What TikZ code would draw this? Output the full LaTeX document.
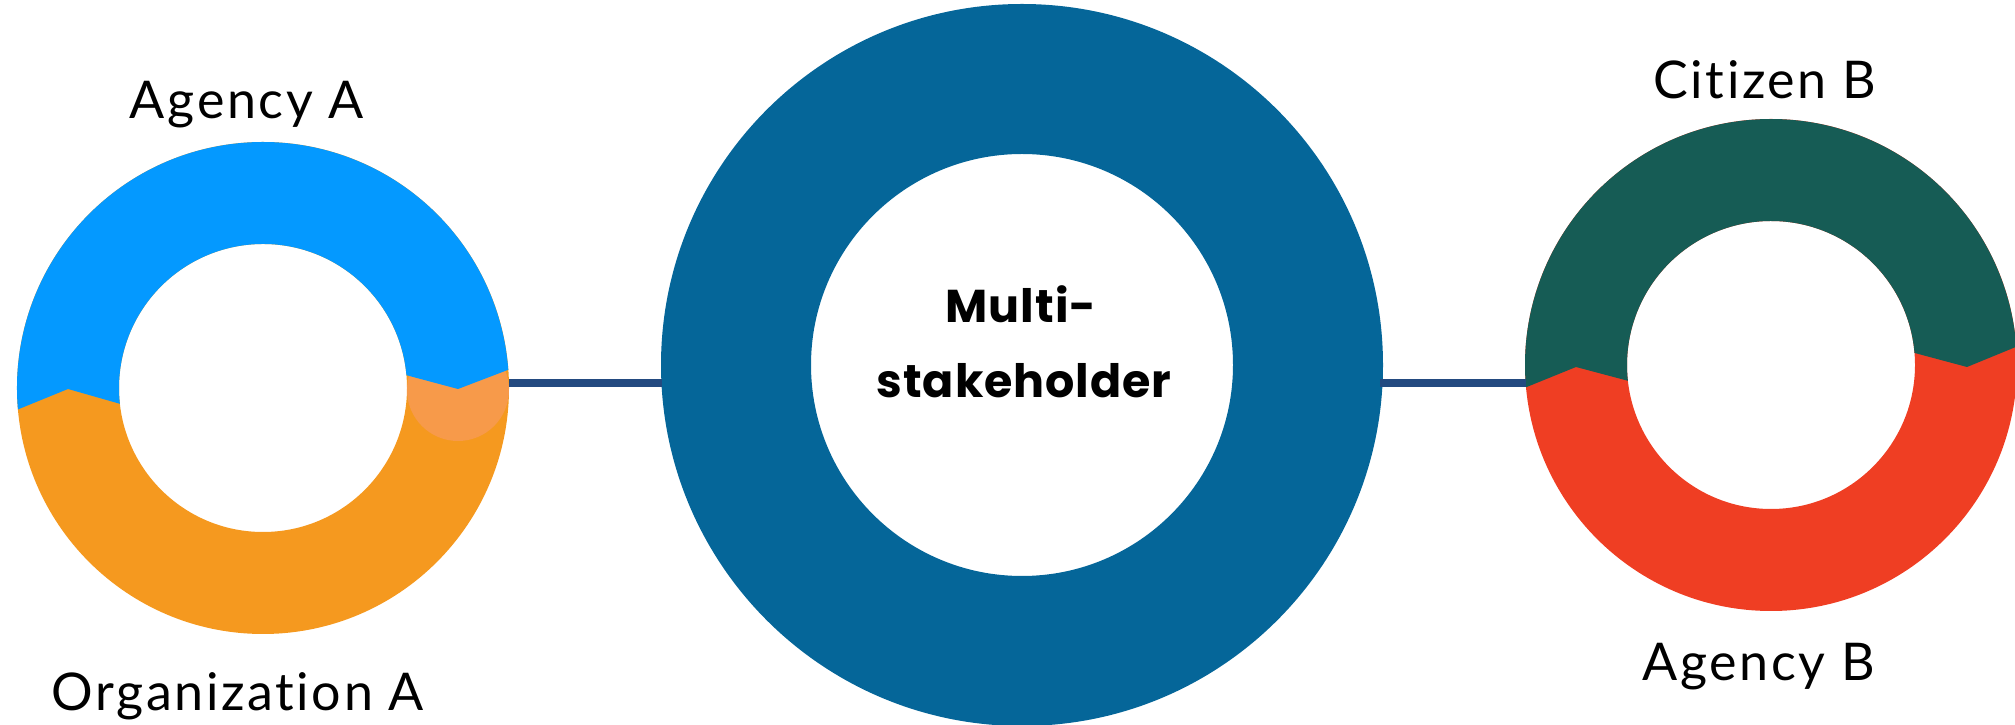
\documentclass[tikz,border=0pt]{standalone}
\usepackage{fontspec}
\usetikzlibrary{calc}
\setmainfont{Lato}[LetterSpace=5,Ligatures=NoCommon]
\newfontfamily\centerfont{Poppins}[LetterSpace=2,Ligatures=NoCommon]
\definecolor{cBlue}{RGB}{4,153,255}
\definecolor{cOrange}{RGB}{245,153,31}
\definecolor{cLightOr}{RGB}{247,154,74}
\definecolor{cMid}{RGB}{5,102,153}
\definecolor{cLink}{RGB}{35,74,128}
\definecolor{cGreen}{RGB}{22,92,85}
\definecolor{cRed}{RGB}{239,62,35}
\tikzset{
  ringnode/.style={circle,inner sep=0pt,outer sep=0pt,minimum size=#1},
  label/.style={anchor=base,inner sep=0pt,font=\fontsize{52bp}{60bp}\selectfont},
  centertext/.style={anchor=base,inner sep=0pt,font=\centerfont\bfseries\fontsize{46bp}{52bp}\selectfont},
  link/.style={draw=cLink,line width=8bp},
}
\begin{document}
\begin{tikzpicture}[x=1bp,y=1bp]
\useasboundingbox (0,0) rectangle (2015,725);
% ---------- left ring (Agency A / Organization A)
\node[ringnode=492bp] (A) at (263,337) {};
\fill[cOrange,even odd rule] (263,337) circle[radius=246] (263,337) circle[radius=144];
\fill[cLightOr] (458,335) circle[radius=51];
\fill[cBlue] (263,337) ++(185:246) arc[start angle=185,end angle=4.25,radius=246]
  -- (458,336) -- ($(263,337)+(5.1:144)$) arc[start angle=5.1,end angle=186.3,radius=144]
  -- (68,336) -- cycle;
% ---------- middle ring
\node[ringnode=722bp] (M) at (1022,360) {};
\fill[cMid,even odd rule] (1022,360) circle[radius=361] (1022,360) circle[radius=211];
% ---------- right ring (Citizen B / Agency B)
\node[ringnode=492bp] (B) at (1771,360) {};
\fill[cRed,even odd rule] (1771,360) circle[radius=246] (1771,360) circle[radius=144];
\fill[cGreen] (1771,360) ++(185.2:246) arc[start angle=185.2,end angle=4.25,radius=246]
  -- (1967,358) -- ($(1771,360)+(4.8:144)$) arc[start angle=4.8,end angle=186.3,radius=144]
  -- (1576,358) -- cycle;
% ---------- connectors
\coordinate (lineY) at (0,342);
\draw[link] (A.east |- lineY) -- ($(M.west |- lineY)+(1,0)$);
\draw[link] ($(M.east |- lineY)+(-3,0)$) -- ($(B.west |- lineY)+(1,0)$);
% ---------- labels
\node[label] (la) at (247,606) {Agency A};
\node[label] (lo) at (238,14) {Organization A};
\node[label] (lc) at (1765,626) {Citizen B};
\node[label] (lb) at (1759,44) {Agency B};
\node[centertext] (t1) at (1021,402) {Multi-};
\node[centertext] (t2) at (1024,327) {stakeholder};
\end{tikzpicture}
\end{document}
